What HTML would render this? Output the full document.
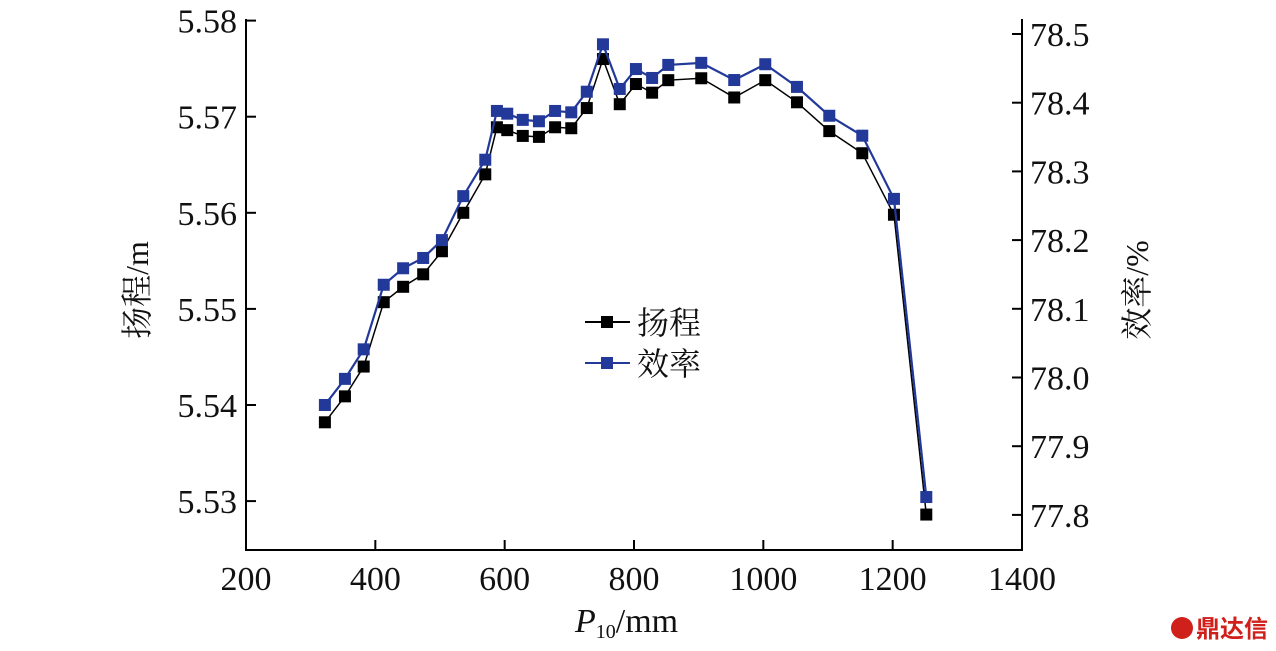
<!DOCTYPE html>
<html><head><meta charset="utf-8"><style>
body{margin:0;background:#fff;}
svg{display:block;font-family:"Liberation Serif","Noto Serif CJK SC",serif;}
</style></head><body>
<svg id="chart" width="1276" height="651" viewBox="0 0 1276 651" xmlns="http://www.w3.org/2000/svg"></svg>
<script>
const xVals=[322,353,382,413,443,474,503,536,570,588,604,628,653,678,703,727,752,778,803,828,853,904,955,1003,1052,1102,1153,1202,1252];
const headVals=[5.5382,5.5409,5.5440,5.5507,5.5523,5.5536,5.5560,5.5600,5.5640,5.5689,5.5686,5.5680,5.5679,5.5689,5.5688,5.5709,5.5760,5.5713,5.5734,5.5725,5.5738,5.5740,5.5720,5.5738,5.5715,5.5685,5.5662,5.5598,5.5286];
const effVals=[77.960,77.998,78.041,78.135,78.159,78.174,78.200,78.264,78.317,78.388,78.384,78.375,78.373,78.388,78.386,78.416,78.485,78.420,78.449,78.436,78.455,78.458,78.433,78.456,78.423,78.381,78.352,78.260,77.826];
const xTicks=[200,400,600,800,1000,1200,1400];
const leftTicks=["5.58","5.57","5.56","5.55","5.54","5.53"];
const rightTicks=["78.5","78.4","78.3","78.2","78.1","78.0","77.9","77.8"];

const NS="http://www.w3.org/2000/svg";
const svg=document.getElementById('chart');
const L=246,R=1022,B=550;
const X=v=>L+(v-200)/1200*(R-L);
const YL=v=>20.6+(5.58-v)/0.01*96.1;
const YR=v=>34+(78.5-v)/0.1*68.7;
function mk(t,a,p){const e=document.createElementNS(NS,t);for(const k in a)e.setAttribute(k,a[k]);(p||svg).appendChild(e);return e;}

let e;
e=mk('path',{d:`M${L},19 V${B} H${R} V19`,fill:'none',stroke:'#000','stroke-width':2});



xTicks.forEach(v=>{
 const x=X(v);
 e=mk('line',{x1:x,x2:x,y1:B,y2:B-10,stroke:'#000','stroke-width':2});
 
 
 e=mk('text',{x:x,y:590,'font-size':34,'text-anchor':'middle',fill:'#111'});e.textContent=v;
 
 
});
leftTicks.forEach(s=>{
 const y=YL(parseFloat(s));
 e=mk('line',{x1:L,x2:L+10,y1:y,y2:y,stroke:'#000','stroke-width':2});
 
 
 e=mk('text',{x:237,y:y+12,'font-size':34,'text-anchor':'end',fill:'#111'});e.textContent=s;
 
 
});
rightTicks.forEach(s=>{
 const y=YR(parseFloat(s));
 e=mk('line',{x1:R-10,x2:R,y1:y,y2:y,stroke:'#000','stroke-width':2});
 
 
 e=mk('text',{x:1030,y:y+12,'font-size':34,'text-anchor':'start',fill:'#111'});e.textContent=s;
 
 
});

function series(vals,yf,color,w,name){
 const pts=xVals.map((x,i)=>[X(x),yf(vals[i])]);
 e=mk('polyline',{points:pts.map(p=>p.join(',')).join(' '),fill:'none',stroke:color,'stroke-width':w});
 
 
 pts.forEach(p=>{
  e=mk('rect',{x:p[0]-6,y:p[1]-6,width:12,height:12,fill:color});
  
  
 });
}
series(headVals,YL,'#000',1.5,'head');
series(effVals,YR,'#23399a',2.2,'efficiency');

// legend
e=mk('g',{});
const lg=e;
[[325,'#000','扬程','legend-head'],[366,'#23399a','效率','legend-efficiency']].forEach(([y,c,t,n])=>{
 const g=mk('g',{},lg);
 mk('line',{x1:585,x2:630,y1:y-3,y2:y-3,stroke:c,'stroke-width':2},g);
 mk('rect',{x:601,y:y-9,width:12,height:12,fill:c},g);
 const tx=mk('text',{x:637,y:y+9,'font-size':32,fill:'#111'},g);tx.textContent=t;
});

e=mk('text',{transform:'translate(148,290) rotate(-90)','font-size':32,'text-anchor':'middle',fill:'#111'});e.textContent='扬程/m';

e=mk('text',{transform:'translate(1148,290) rotate(-90)','font-size':32,'text-anchor':'middle',fill:'#111'});e.textContent='效率/%';

e=mk('text',{x:575,y:632,'font-size':34,fill:'#111'});
e.innerHTML='<tspan font-style="italic">P</tspan><tspan font-size="20" dy="6">10</tspan><tspan dy="-6">/mm</tspan>';


e=mk('g',{});
mk('circle',{cx:1182,cy:628,r:11,fill:'#d0201c'},e);
const wt=mk('text',{x:1196,y:637,'font-size':24,fill:'#d0201c','font-family':'"Noto Sans CJK SC",sans-serif','font-weight':'bold'},e);wt.textContent='鼎达信';
</script>
</body></html>
